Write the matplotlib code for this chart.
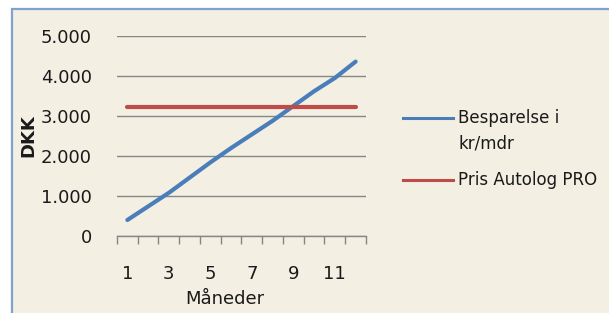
import matplotlib
matplotlib.use("Agg")
import matplotlib.pyplot as plt
from matplotlib.patches import Rectangle
from matplotlib.lines import Line2D

# data
months = list(range(1, 13))
besparelse = [400, 740, 1080, 1460, 1840, 2200, 2540, 2880, 3250, 3620, 3950, 4360]
pris_autolog = [3220] * 12
month_labels = ["1", "3", "5", "7", "9", "11"]
y_ticks = [0, 1000, 2000, 3000, 4000, 5000]
y_tick_labels = ["0", "1.000", "2.000", "3.000", "4.000", "5.000"]

BLUE = "#4A7EBB"
RED = "#BE4B48"
BG = "#F3EFE3"
GRID = "#868686"

plt.rcParams["font.family"] = "DejaVu Sans"

W, H = 609, 313
fig = plt.figure(figsize=(W / 100, H / 100), dpi=100, facecolor="white")

# chart area background with the blue frame (cropped at right/bottom)
fig.add_artist(Rectangle((11.5 / W, -0.05), 1.1, 1 - 9.5 / H + 0.05,
                         transform=fig.transFigure, facecolor=BG,
                         edgecolor="#7FA2D0", linewidth=1.6, zorder=0))

ax = fig.add_axes([117 / W, 1 - 236 / H, 249 / W, 200 / H])
ax.set_facecolor("none")

ax.plot(months, besparelse, color=BLUE, lw=3, solid_capstyle="round", zorder=3)
ax.plot(months, pris_autolog, color=RED, lw=3, solid_capstyle="round", zorder=4)

ax.set_xlim(0.5, 12.5)
ax.set_ylim(0, 5000)

ax.set_yticks(y_ticks)
ax.set_yticklabels(y_tick_labels)
ax.tick_params(axis="y", length=0, pad=18, labelsize=13, colors="#1a1a1a")
ax.yaxis.grid(True, color=GRID, lw=1.0)
ax.set_axisbelow(True)

# category axis: tick marks between months, labels on odd months
ax.set_xticks(months[::2])
ax.set_xticklabels(month_labels)
ax.set_xticks([m - 0.5 for m in months] + [12.5], minor=True)
ax.tick_params(axis="x", which="major", length=0, pad=21, labelsize=13, colors="#1a1a1a")
ax.tick_params(axis="x", which="minor", length=6, width=1.0, color=GRID, direction="out")

for s in ["top", "right", "left"]:
    ax.spines[s].set_visible(False)
ax.spines["bottom"].set_color(GRID)
ax.spines["bottom"].set_linewidth(1.0)

ax.set_ylabel("DKK", fontsize=13, fontweight="bold", color="#1a1a1a")
ax.yaxis.set_label_coords(-0.32, 0.5)
ax.set_xlabel("Måneder", fontsize=13, color="#1a1a1a")
ax.xaxis.set_label_coords(0.434, -0.27)

# legend, drawn by hand so the handle lines up with the first text line
fig.add_artist(Line2D([403 / W, 453 / W], [1 - 118 / H] * 2, color=BLUE, lw=2.2,
                      transform=fig.transFigure))
fig.text(458 / W, 1 - 118 / H, "Besparelse i", fontsize=12, va="center", color="#1a1a1a")
fig.text(458 / W, 1 - 143 / H, "kr/mdr", fontsize=12, va="center", color="#1a1a1a")
fig.add_artist(Line2D([403 / W, 453 / W], [1 - 180 / H] * 2, color=RED, lw=2.2,
                      transform=fig.transFigure))
fig.text(458 / W, 1 - 180 / H, "Pris Autolog PRO", fontsize=12, va="center", color="#1a1a1a")

fig.savefig("out.png", dpi=100, facecolor="white")
